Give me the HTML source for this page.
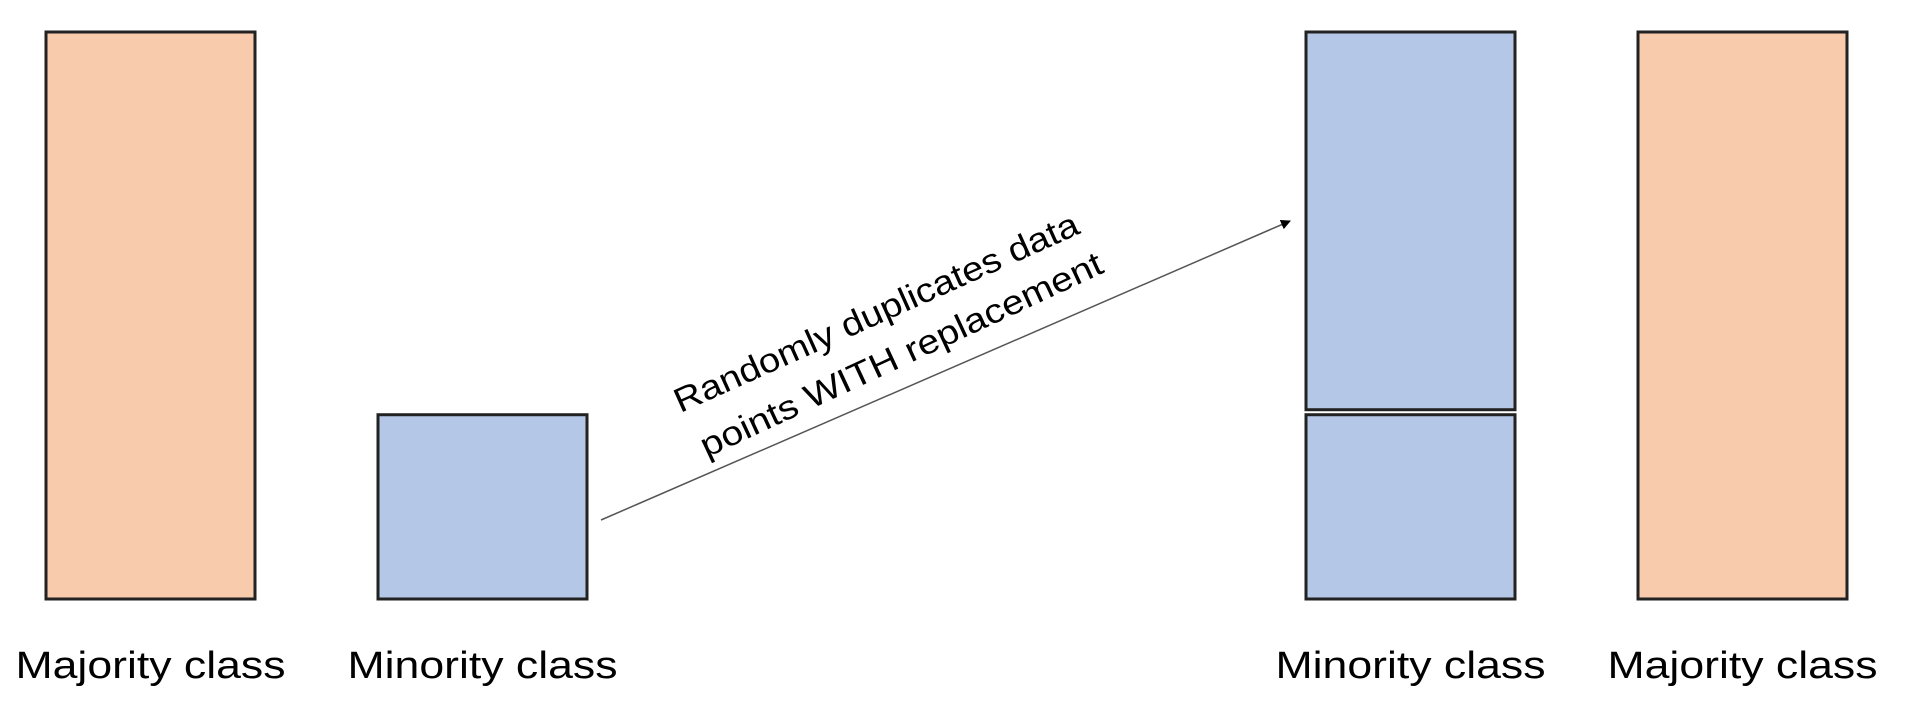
<!DOCTYPE html>
<html><head><meta charset="utf-8"><style>
html,body{margin:0;padding:0;background:#fff;}
svg{display:block;font-family:"Liberation Sans","DejaVu Sans",sans-serif;}
</style></head><body>
<svg width="1905" height="706" viewBox="0 0 1905 706">
<defs><marker id="ah" markerWidth="10" markerHeight="10" refX="9" refY="5" orient="auto" markerUnits="userSpaceOnUse" viewBox="0 0 10 10"><path d="M0,0 L10,5 L0,10 z" fill="#000"/></marker></defs>
<g id="bars"></g>
<line x1="601" y1="520" x2="1290" y2="221" stroke="#555" stroke-width="1.5" marker-end="url(#ah)"/>
<g transform="translate(876,312) rotate(-24.2)">
<text x="0" y="12" text-anchor="middle" font-size="34" textLength="440" lengthAdjust="spacingAndGlyphs" fill="#000">Randomly duplicates data</text>
</g>
<g transform="translate(901,354) rotate(-25)">
<text x="0" y="12" text-anchor="middle" font-size="34" textLength="440" lengthAdjust="spacingAndGlyphs" fill="#000">points WITH replacement</text>
</g>
<g id="labels"></g>
</svg>
<script>
const categories=["Majority class","Minority class","Minority class","Majority class"];
const segments=[[1],[0.325],[0.325,0.675],[1]];
const colors=["#f8cbad","#b4c7e7","#b4c7e7","#f8cbad"];
const barXs=[46,378,1306,1638], barW=209, baseY=599, topY=32;
const yScale=v=>v*(baseY-topY);
const ns="http://www.w3.org/2000/svg";
const bg=document.getElementById('bars'), lg=document.getElementById('labels');
categories.forEach((c,i)=>{
  let y=baseY;
  segments[i].forEach((v,j)=>{
    const h=yScale(v);
    const r=document.createElementNS(ns,'rect');
    const gap=j>0?5:0;
    r.setAttribute('x',barXs[i]);r.setAttribute('y',y-h);
    r.setAttribute('width',barW);r.setAttribute('height',h-gap);
    r.setAttribute('fill',colors[i]);r.setAttribute('stroke','#222');r.setAttribute('stroke-width','3');
    
    
    bg.appendChild(r);
    y-=h;
  });
  const t=document.createElementNS(ns,'text');
  t.setAttribute('x',barXs[i]+barW/2);t.setAttribute('y',678);
  t.setAttribute('text-anchor','middle');t.setAttribute('font-size','38');
  t.setAttribute('textLength','270');t.setAttribute('lengthAdjust','spacingAndGlyphs');
  t.textContent=c;
  
  
  lg.appendChild(t);
});
</script>
</body></html>
